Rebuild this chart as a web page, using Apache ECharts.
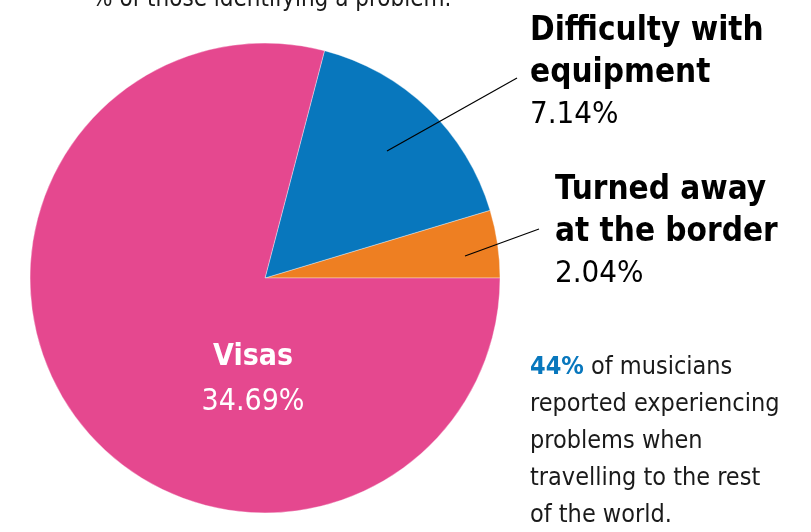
<!DOCTYPE html>
<html>
<head>
<meta charset="utf-8">
<script src="https://cdn.jsdelivr.net/npm/echarts@6/dist/echarts.min.js"></script>
<style>
  html, body { margin: 0; padding: 0; background: #fff; }
  #chart { width: 811px; height: 532px; }
</style>
</head>
<body>
<div id="chart"></div>
<script>
// Problems reported when travelling outside the EU (share of all musicians)
const categories = ['Turned away\nat the border', 'Difficulty with\nequipment', 'Visas'];
const shares = [2.04, 7.14, 34.69];
const sliceColours = ['#ee7f22', '#0877bd', '#e5488f'];
const headline = '44%';
const noteLines = ['of musicians', 'reported experiencing', 'problems when', 'travelling to the rest', 'of the world.'];
const subtitle = '% of those identifying a problem.';

const FONT = '"Liberation Sans Narrow", "DejaVu Sans Condensed", "Open Sans", sans-serif';

const chart = echarts.init(document.getElementById('chart'), null, { renderer: 'canvas' });

// Where each slice's label block sits
const labelSpots = [
  { x: 555, y: 169, align: 'left' },
  { x: 530, y: 10, align: 'left' },
  { x: 253, y: 335, align: 'center' }
];

// Leader lines from the outer slices to their labels
const leader = (x1, y1, x2, y2) => ({
  type: 'line', z: 10,
  shape: { x1, y1, x2, y2 },
  style: { stroke: '#000', lineWidth: 1.2 }
});

const lastIdx = categories.length - 1;

chart.setOption({
  animation: false,
  graphic: [
    {
      type: 'text', left: 92, top: -12,
      style: { text: subtitle, font: '24px ' + FONT, fill: '#1a1a1a' }
    },
    {
      type: 'text', left: 530, top: 355,
      style: {
        text: '{h|' + headline + '}{t| ' + noteLines[0] + '}\n' +
              noteLines.slice(1).map(l => '{t|' + l + '}').join('\n'),
        rich: {
          h: { fontFamily: FONT, fontSize: 25, fontWeight: 'bold', fill: '#0877bd', lineHeight: 37 },
          t: { fontFamily: FONT, fontSize: 25, fill: '#1a1a1a', lineHeight: 37 }
        }
      }
    },
    leader(387, 151, 517, 78),
    leader(465, 256, 539, 229)
  ],
  series: [{
    type: 'pie',
    center: [265, 278],
    radius: [0, 235],
    startAngle: 0,
    clockwise: false,
    silent: true,
    itemStyle: { borderColor: 'rgba(255,255,255,0.6)', borderWidth: 0.6 },
    data: categories.map((name, i) => ({
      name, value: shares[i],
      itemStyle: { color: sliceColours[i] },
      label: i === lastIdx ? { position: 'inside' } : undefined
    })),
    label: {
      show: true,
      position: 'outside',
      overflow: 'none',
      formatter: p => {
        const w = p.dataIndex === lastIdx ? 'w' : '';
        const head = p.name.split('\n').map(l => '{b' + w + '|' + l + '}').join('\n');
        return head + '\n{v' + w + '|' + p.value.toFixed(2) + '%}';
      },
      rich: {
        b: { fontFamily: FONT, fontSize: 33, fontWeight: 'bold', color: '#000', lineHeight: 42 },
        v: { fontFamily: FONT, fontSize: 31, color: '#000', lineHeight: 42 },
        bw: { fontFamily: FONT, fontSize: 30, fontWeight: 'bold', color: '#fff', lineHeight: 45 },
        vw: { fontFamily: FONT, fontSize: 30, color: '#fff', lineHeight: 45 }
      }
    },
    labelLine: { show: false },
    labelLayout: params => {
      const s = labelSpots[params.dataIndex];
      return { x: s.x, y: s.y, align: s.align, verticalAlign: 'top' };
    }
  }]
});
</script>
</body>
</html>
